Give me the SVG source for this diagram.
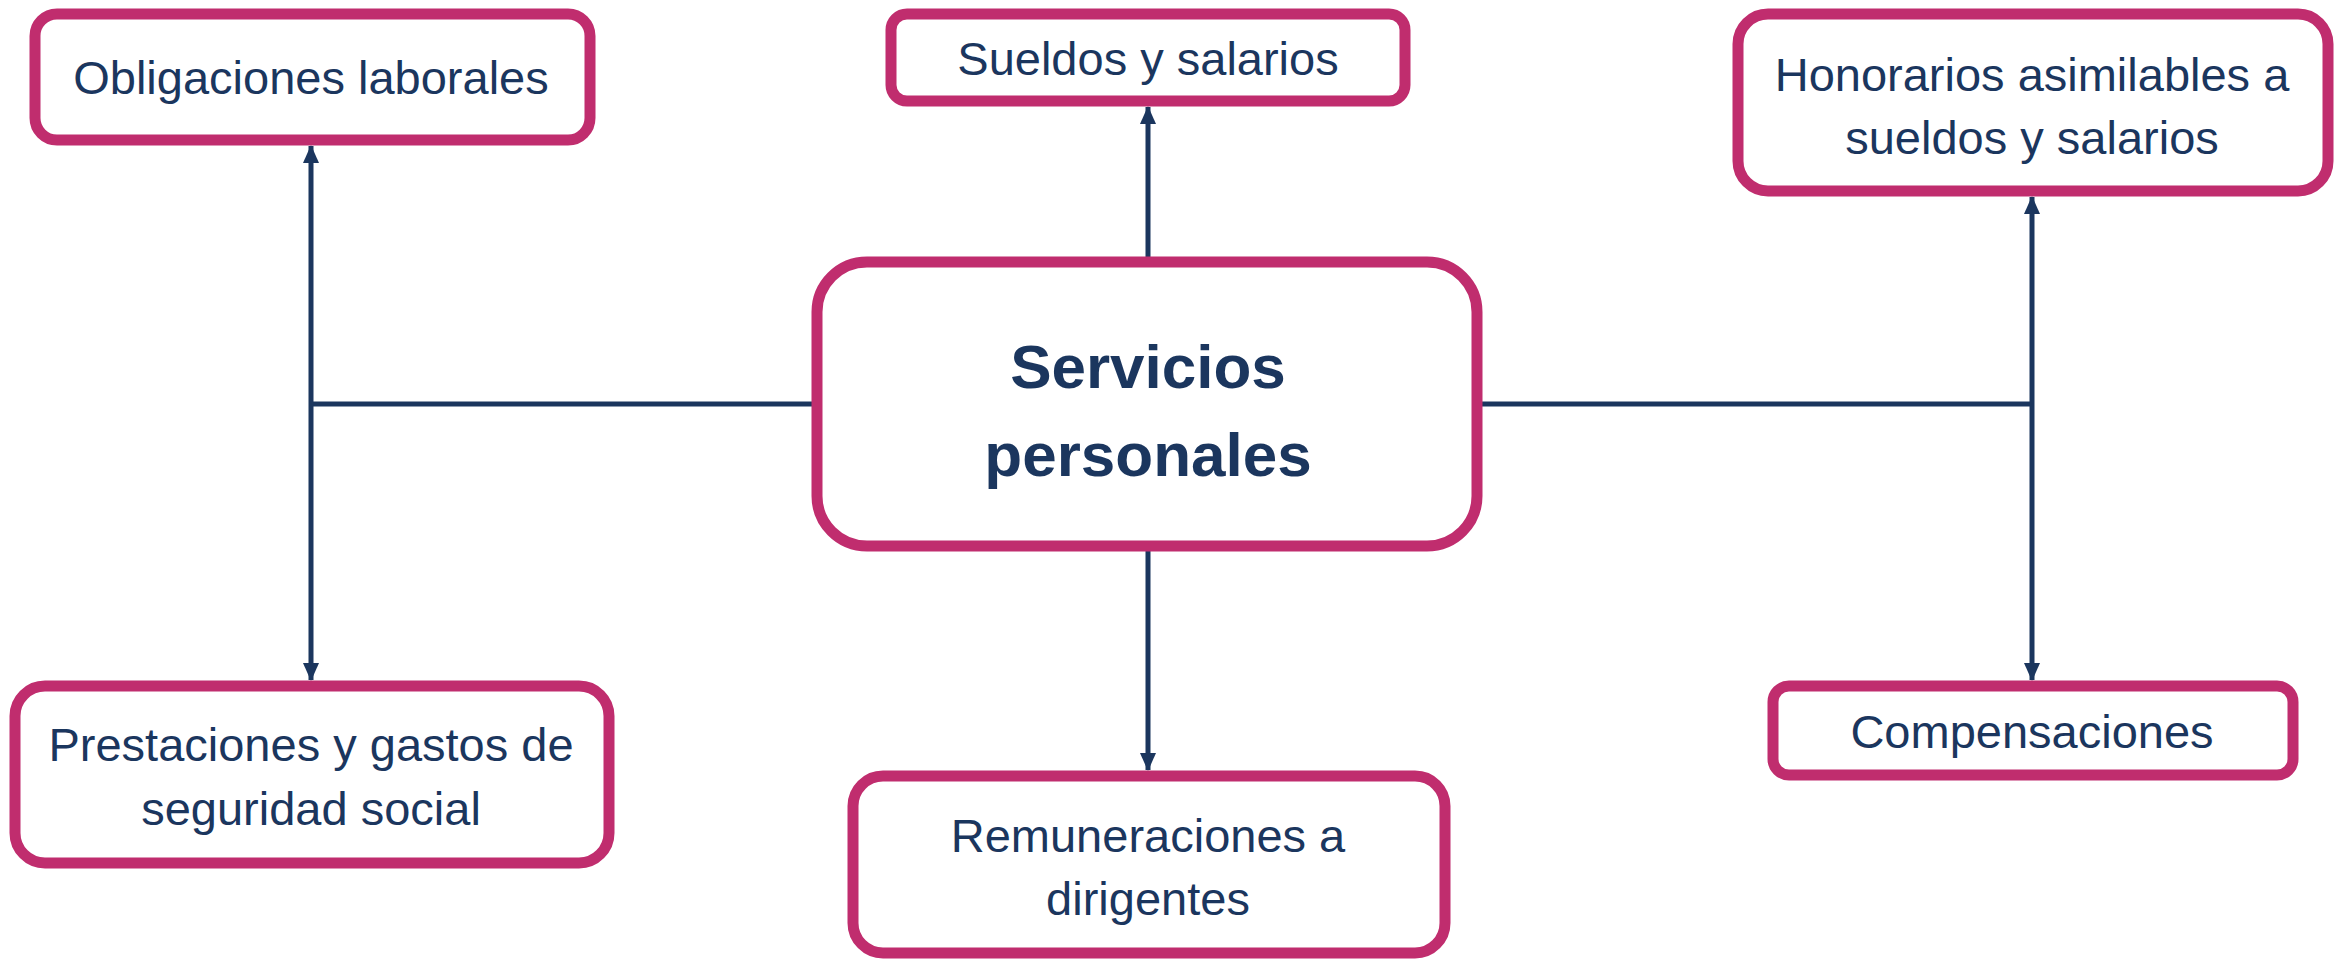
<svg xmlns="http://www.w3.org/2000/svg" width="2346" height="960" viewBox="0 0 2346 960">
<style>
.box{fill:#fff;stroke:#C02D6E;stroke-width:11}
.t{font-family:"Liberation Sans",Arial,sans-serif;font-size:47px;fill:#1B365E;text-anchor:middle}
.tb{font-family:"Liberation Sans",Arial,sans-serif;font-size:62px;font-weight:bold;fill:#1B365E;text-anchor:middle}
.c{stroke:#1B365E;stroke-width:5;fill:none}
</style>
<defs>
<marker id="ah" markerUnits="userSpaceOnUse" markerWidth="18" markerHeight="16" refX="17" refY="8" orient="auto">
<path d="M0,0 L18,8 L0,16 Z" fill="#1B365E"/>
</marker>
</defs>
<rect width="2346" height="960" fill="#fff"/>
<g id="connectors">
<path class="c" d="M812,404 H311"/>
<path class="c" d="M311,404 V146" marker-end="url(#ah)"/>
<path class="c" d="M311,404 V680" marker-end="url(#ah)"/>
<path class="c" d="M1148,257 V107" marker-end="url(#ah)"/>
<path class="c" d="M1148,551 V770" marker-end="url(#ah)"/>
<path class="c" d="M1481,404 H2032"/>
<path class="c" d="M2032,404 V197" marker-end="url(#ah)"/>
<path class="c" d="M2032,404 V680" marker-end="url(#ah)"/>
</g>
<g id="node-obligaciones">
<rect class="box" x="35" y="14" width="555" height="126" rx="22"/>
<text class="t" x="311" y="94">Obligaciones laborales</text>
</g>
<g id="node-sueldos">
<rect class="box" x="891" y="14" width="514" height="87" rx="16"/>
<text class="t" x="1148" y="75">Sueldos y salarios</text>
</g>
<g id="node-honorarios">
<rect class="box" x="1738" y="14" width="590" height="177" rx="30"/>
<text class="t" x="2032" y="91">Honorarios asimilables a</text>
<text class="t" x="2032" y="154">sueldos y salarios</text>
</g>
<g id="node-servicios">
<rect class="box" x="817" y="262" width="660" height="284" rx="50"/>
<text class="tb" x="1148" y="388">Servicios</text>
<text class="tb" x="1148" y="476">personales</text>
</g>
<g id="node-prestaciones">
<rect class="box" x="15" y="686" width="594" height="177" rx="30"/>
<text class="t" x="311" y="761">Prestaciones y gastos de</text>
<text class="t" x="311" y="825">seguridad social</text>
</g>
<g id="node-remuneraciones">
<rect class="box" x="853" y="776" width="592" height="177" rx="30"/>
<text class="t" x="1148" y="852">Remuneraciones a</text>
<text class="t" x="1148" y="915">dirigentes</text>
</g>
<g id="node-compensaciones">
<rect class="box" x="1773" y="686" width="520" height="89" rx="16"/>
<text class="t" x="2032" y="748">Compensaciones</text>
</g>
</svg>
